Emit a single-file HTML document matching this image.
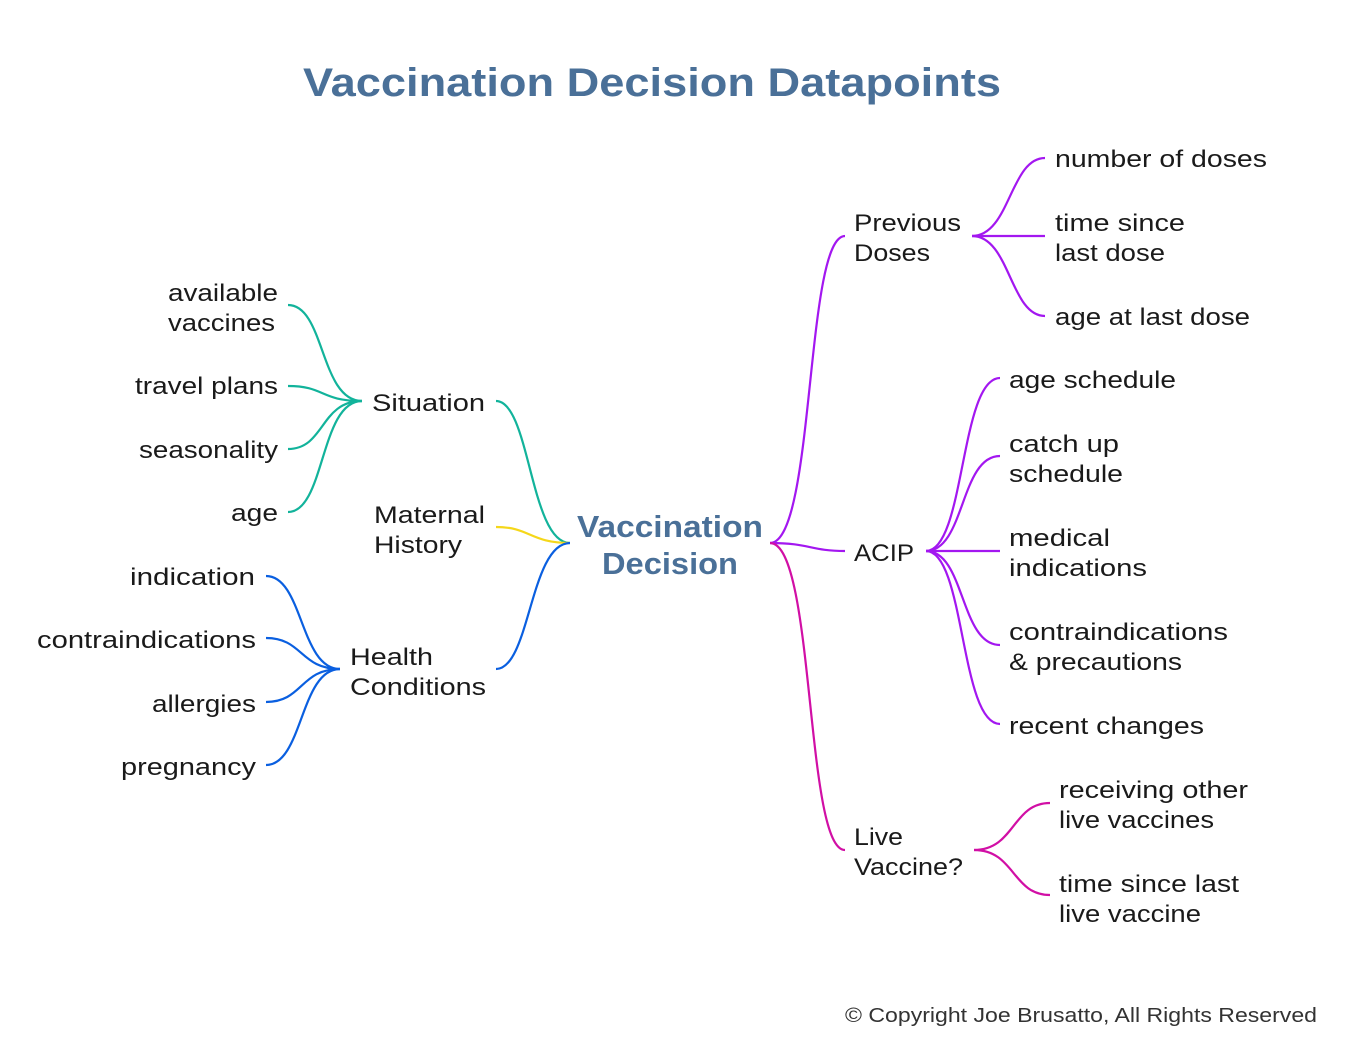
<!DOCTYPE html>
<html><head><meta charset="utf-8"><style>
html,body{margin:0;padding:0;background:#fff;}
svg{display:block;}
text{font-family:"Liberation Sans",sans-serif;fill:#1a1a1a;font-size:24px;}
.t{font-size:40px;font-weight:bold;fill:#4a7098;}
.c{font-size:31px;font-weight:bold;fill:#4a7098;}
.s{font-size:20px;fill:#333;}
path{fill:none;stroke-width:2.2;}
</style></head><body>
<svg width="1348" height="1040" viewBox="0 0 1348 1040" xmlns="http://www.w3.org/2000/svg">
<text class="t" x="303" y="96" textLength="698" lengthAdjust="spacingAndGlyphs">Vaccination Decision Datapoints</text>
<text class="c" x="577" y="537" textLength="186" lengthAdjust="spacingAndGlyphs">Vaccination</text>
<text class="c" x="602" y="574" textLength="136" lengthAdjust="spacingAndGlyphs">Decision</text>

<!-- left main -->
<g stroke="#12b39b">
<path d="M570 543 C530 543 530 401 496 401"/>
<path d="M362 401 C320 401 325 305 288 305"/>
<path d="M362 401 C320 401 325 386 288 386"/>
<path d="M362 401 C320 401 325 449 288 449"/>
<path d="M362 401 C320 401 325 512 288 512"/>
</g>
<path stroke="#f5d71a" d="M570 543 C530 543 530 527 496 527"/>
<g stroke="#0a5fe0">
<path d="M570 543 C530 543 530 669 496 669"/>
<path d="M340 669 C300 669 303 576 266 576"/>
<path d="M340 669 C300 669 303 638 266 638"/>
<path d="M340 669 C300 669 303 702 266 702"/>
<path d="M340 669 C300 669 303 765 266 765"/>
</g>
<!-- right -->
<g stroke="#a317f0">
<path d="M770 543 C815 543 805 236 845 236"/>
<path d="M770 543 C810 543 810 551 845 551"/>
<path d="M972 236 C1010 236 1010 158 1045 158"/>
<path d="M972 236 L1045 236"/>
<path d="M972 236 C1010 236 1010 316 1045 316"/>
<path d="M926 551 C965 551 960 378 1000 378"/>
<path d="M926 551 C965 551 960 456 1000 456"/>
<path d="M926 551 L1000 551"/>
<path d="M926 551 C965 551 960 645 1000 645"/>
<path d="M926 551 C965 551 960 724 1000 724"/>
</g>
<g stroke="#d10fa5">
<path d="M770 543 C815 543 805 850 845 850"/>
<path d="M974 850 C1015 850 1012 803 1050 803"/>
<path d="M974 850 C1015 850 1012 895 1050 895"/>
</g>

<g lengthAdjust="spacingAndGlyphs">
<text x="168" y="301" textLength="110" lengthAdjust="spacingAndGlyphs">available</text>
<text x="168" y="331" textLength="107" lengthAdjust="spacingAndGlyphs">vaccines</text>
<text x="135" y="394" textLength="143" lengthAdjust="spacingAndGlyphs">travel plans</text>
<text x="139" y="458" textLength="139" lengthAdjust="spacingAndGlyphs">seasonality</text>
<text x="231" y="521" textLength="47" lengthAdjust="spacingAndGlyphs">age</text>
<text x="372" y="411" textLength="113" lengthAdjust="spacingAndGlyphs">Situation</text>
<text x="374" y="523" textLength="111" lengthAdjust="spacingAndGlyphs">Maternal</text>
<text x="374" y="553" textLength="88" lengthAdjust="spacingAndGlyphs">History</text>
<text x="350" y="665" textLength="83" lengthAdjust="spacingAndGlyphs">Health</text>
<text x="350" y="695" textLength="136" lengthAdjust="spacingAndGlyphs">Conditions</text>
<text x="130" y="585" textLength="125" lengthAdjust="spacingAndGlyphs">indication</text>
<text x="37" y="648" textLength="219" lengthAdjust="spacingAndGlyphs">contraindications</text>
<text x="152" y="712" textLength="104" lengthAdjust="spacingAndGlyphs">allergies</text>
<text x="121" y="775" textLength="135" lengthAdjust="spacingAndGlyphs">pregnancy</text>

<text x="854" y="231" textLength="107" lengthAdjust="spacingAndGlyphs">Previous</text>
<text x="854" y="261" textLength="76" lengthAdjust="spacingAndGlyphs">Doses</text>
<text x="1055" y="167" textLength="212" lengthAdjust="spacingAndGlyphs">number of doses</text>
<text x="1055" y="231" textLength="130" lengthAdjust="spacingAndGlyphs">time since</text>
<text x="1055" y="261" textLength="110" lengthAdjust="spacingAndGlyphs">last dose</text>
<text x="1055" y="325" textLength="195" lengthAdjust="spacingAndGlyphs">age at last dose</text>
<text x="854" y="561" textLength="60" lengthAdjust="spacingAndGlyphs">ACIP</text>
<text x="1009" y="388" textLength="167" lengthAdjust="spacingAndGlyphs">age schedule</text>
<text x="1009" y="452" textLength="110" lengthAdjust="spacingAndGlyphs">catch up</text>
<text x="1009" y="482" textLength="114" lengthAdjust="spacingAndGlyphs">schedule</text>
<text x="1009" y="546" textLength="101" lengthAdjust="spacingAndGlyphs">medical</text>
<text x="1009" y="576" textLength="138" lengthAdjust="spacingAndGlyphs">indications</text>
<text x="1009" y="640" textLength="219" lengthAdjust="spacingAndGlyphs">contraindications</text>
<text x="1009" y="670" textLength="173" lengthAdjust="spacingAndGlyphs">&amp; precautions</text>
<text x="1009" y="734" textLength="195" lengthAdjust="spacingAndGlyphs">recent changes</text>
<text x="854" y="845" textLength="49" lengthAdjust="spacingAndGlyphs">Live</text>
<text x="854" y="875" textLength="109" lengthAdjust="spacingAndGlyphs">Vaccine?</text>
<text x="1059" y="798" textLength="189" lengthAdjust="spacingAndGlyphs">receiving other</text>
<text x="1059" y="828" textLength="155" lengthAdjust="spacingAndGlyphs">live vaccines</text>
<text x="1059" y="892" textLength="180" lengthAdjust="spacingAndGlyphs">time since last</text>
<text x="1059" y="922" textLength="142" lengthAdjust="spacingAndGlyphs">live vaccine</text>
<text class="s" x="845" y="1022" textLength="472" lengthAdjust="spacingAndGlyphs">© Copyright Joe Brusatto, All Rights Reserved</text>
</g>
</svg>
</body></html>
